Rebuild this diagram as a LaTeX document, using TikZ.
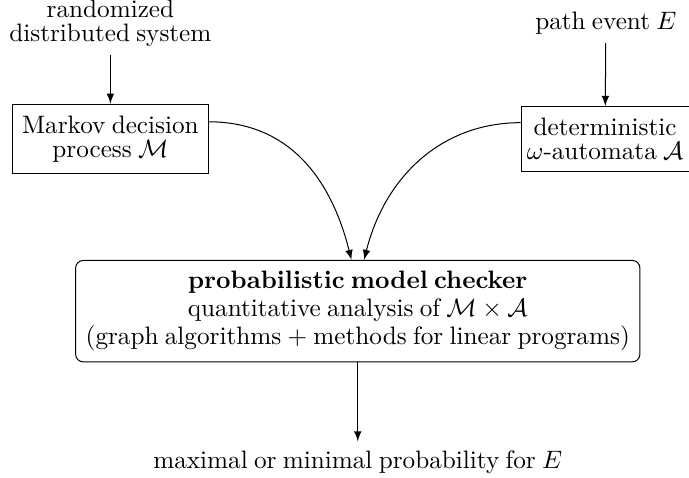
\documentclass[tikz,border=0pt]{standalone}

\begin{document}
\begin{tikzpicture}[every node/.append style={execute at begin node={\spaceskip=0.25em\relax}},
box/.style={draw,align=center,inner xsep=3.7pt,inner ysep=4.6pt,font=\linespread{0.8}\selectfont},
label/.style={align=center,font=\linespread{0.8}\selectfont},
checker/.style={draw,align=center,rounded corners=3pt,inner xsep=4pt,inner ysep=4.3pt,font=\linespread{0.925}\selectfont}]
\useasboundingbox (-4.99,-2.32) rectangle (4.62,4.34);
\node [label] (A1) at (-3.45,4.02) {randomized\\distributed system};
\node [label] (A3) at (3.46,4.02) {path event $E$};
\node [box] (B1) at (-3.45,2.4) {Markov decision\\process $\mathcal{M}$};
\node [box,inner xsep=2.3pt] (B3) at (3.45,2.4) {deterministic\\$\omega$-automata $\mathcal{A}$};
\node [checker] (C2) at (0,0) {\textbf{probabilistic model checker}\\quantitative analysis of $\mathcal{M}\times\mathcal{A}$\\(graph algorithms + methods for linear programs)};
\node (D2) at (0,-2.1) {maximal or minimal probability for $E$};
\draw[-latex] (A1) to (B1);
\draw[-latex] (A3) to (B3);
\draw[-latex] (B1.10) .. controls +(0:11mm) and +(104:12mm) .. ([xshift=-2.5pt]C2.north);
\draw[-latex] (B3.169) .. controls +(180:11mm) and +(76:12mm) .. ([xshift=2.5pt]C2.north);
\draw[-latex] (C2) to (D2);
\end{tikzpicture}
\end{document}
